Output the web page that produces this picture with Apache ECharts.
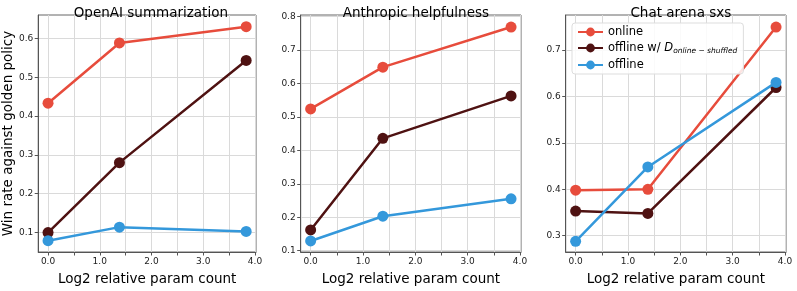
<!DOCTYPE html>
<html>
<head>
<meta charset="utf-8">
<script src="https://cdn.jsdelivr.net/npm/echarts@6/dist/echarts.min.js"></script>
<style>
html,body{margin:0;padding:0;background:#fff;}
#c{width:797px;height:291px;}
</style>
</head>
<body>
<div id="c"></div>
<script>
// ---- data ----
const xValues = [0, 1.38, 3.83];
const panelTitles = ['OpenAI summarization', 'Anthropic helpfulness', 'Chat arena sxs'];
const seriesNames = ['online', 'offline w/ D', 'offline'];

const openaiOnline = [0.433, 0.588, 0.630];
const openaiShuffled = [0.100, 0.280, 0.543];
const openaiOffline = [0.079, 0.114, 0.103];

const anthropicOnline = [0.524, 0.649, 0.769];
const anthropicShuffled = [0.162, 0.436, 0.563];
const anthropicOffline = [0.129, 0.203, 0.255];

const chatOnline = [0.398, 0.400, 0.749];
const chatShuffled = [0.353, 0.348, 0.619];
const chatOffline = [0.288, 0.448, 0.630];

const xTickLabels = [0, 1, 2, 3, 4];
const xMinorTicks = [0, 0.5, 1, 1.5, 2, 2.5, 3, 3.5, 4];
const yTicksOpenai = [0.1, 0.2, 0.3, 0.4, 0.5, 0.6];
const yTicksAnthropic = [0.1, 0.2, 0.3, 0.4, 0.5, 0.6, 0.7, 0.8];
const yTicksChat = [0.3, 0.4, 0.5, 0.6, 0.7];

// ---- layout / style ----
const colors = ['#e74c3c', '#4f1212', '#3498db'];
const gridLefts = [35.7, 300.7, 565.7];
const gridW = 220.3, gridTop = 15, gridH = 245.7;
const yRanges = [[0.050, 0.660], [0.096, 0.805], [0.265, 0.775]];
const yTicks = [yTicksOpenai, yTicksAnthropic, yTicksChat];
const panelData = [
  [openaiOnline, openaiShuffled, openaiOffline],
  [anthropicOnline, anthropicShuffled, anthropicOffline],
  [chatOnline, chatShuffled, chatOffline]
];
const FONT = 'DejaVu Sans';
const GRIDCOLOR = '#dadada';

const grids = [], xAxes = [], yAxes = [], series = [], titles = [];
for (let p = 0; p < 3; p++) {
  grids.push({left: gridLefts[p], top: gridTop, width: gridW, height: gridH,
    show: true, borderColor: '#666', borderWidth: 1, backgroundColor: 'transparent'});
  titles.push({text: panelTitles[p], left: gridLefts[p] + gridW / 2, top: 1, textAlign: 'center',
    textStyle: {fontFamily: FONT, fontSize: 13.5, fontWeight: 'normal', color: '#000'}});
  xAxes.push({type: 'value', gridIndex: p, min: -0.19, max: 4.02,
    name: 'Log2 relative param count', nameLocation: 'middle', nameGap: 20,
    nameTextStyle: {fontFamily: FONT, fontSize: 13.5, color: '#000'},
    axisLine: {show: true, onZero: false, lineStyle: {color: '#555', width: 1}},
    axisTick: {show: true, length: 3.5, customValues: xMinorTicks, lineStyle: {color: '#555'}},
    axisLabel: {customValues: xTickLabels, fontFamily: FONT, fontSize: 9, color: '#222', margin: 5,
      formatter: v => v.toFixed(1)},
    splitLine: {show: false}
  });
  yAxes.push({type: 'value', gridIndex: p, min: yRanges[p][0], max: yRanges[p][1],
    name: p === 0 ? 'Win rate against golden policy' : '', nameLocation: 'middle', nameGap: 20,
    nameTextStyle: {fontFamily: FONT, fontSize: 13.5, color: '#000'},
    axisLine: {show: true, onZero: false, lineStyle: {color: '#555', width: 1}},
    axisTick: {show: true, length: 3.5, customValues: yTicks[p], lineStyle: {color: '#555'}},
    axisLabel: {customValues: yTicks[p], fontFamily: FONT, fontSize: 9, color: '#222', margin: 5,
      formatter: v => v.toFixed(1)},
    splitLine: {show: false}
  });
  // grid lines drawn at tick values
  series.push({type: 'line', name: 'gridlines' + p, xAxisIndex: p, yAxisIndex: p, data: [],
    silent: true, z: 0,
    markLine: {silent: true, z: 0, symbol: ['none', 'none'], animation: false,
      label: {show: false}, emphasis: {disabled: true},
      lineStyle: {color: GRIDCOLOR, width: 1, type: 'solid'},
      data: xMinorTicks.map(v => ({xAxis: v})).concat(yTicks[p].map(v => ({yAxis: v})))}
  });
  for (let s = 0; s < 3; s++) {
    series.push({type: 'line', name: seriesNames[s], xAxisIndex: p, yAxisIndex: p,
      data: xValues.map((x, i) => [x, panelData[p][s][i]]),
      symbol: 'circle', symbolSize: 11, color: colors[s],
      lineStyle: {width: 2.5, color: colors[s]}, itemStyle: {color: colors[s]},
      z: 3 + s, animation: false});
  }
}

const chart = echarts.init(document.getElementById('c'), null, {renderer: 'canvas'});
chart.setOption({
  animation: false,
  backgroundColor: '#fff',
  title: titles,
  grid: grids,
  xAxis: xAxes,
  yAxis: yAxes,
  series: series,
  legend: {
    data: seriesNames, orient: 'vertical', left: 572, top: 23, z: 10,
    backgroundColor: 'rgba(255,255,255,0.85)', borderColor: '#ddd', borderWidth: 1, borderRadius: 3,
    padding: [3, 6, 3, 5], itemGap: 4, itemWidth: 25, itemHeight: 11,
    textStyle: {fontFamily: FONT, fontSize: 11.5, color: '#000',
      rich: {
        d: {fontFamily: FONT, fontSize: 11.5, fontStyle: 'italic', color: '#000'},
        s: {fontFamily: FONT, fontSize: 7.5, fontStyle: 'italic', color: '#000', padding: [6, 0, 0, 0]}
      }},
    formatter: n => n === 'offline w/ D' ? 'offline w/ {d|D}{s|online − shuffled}' : n
  }
});
</script>
</body>
</html>
